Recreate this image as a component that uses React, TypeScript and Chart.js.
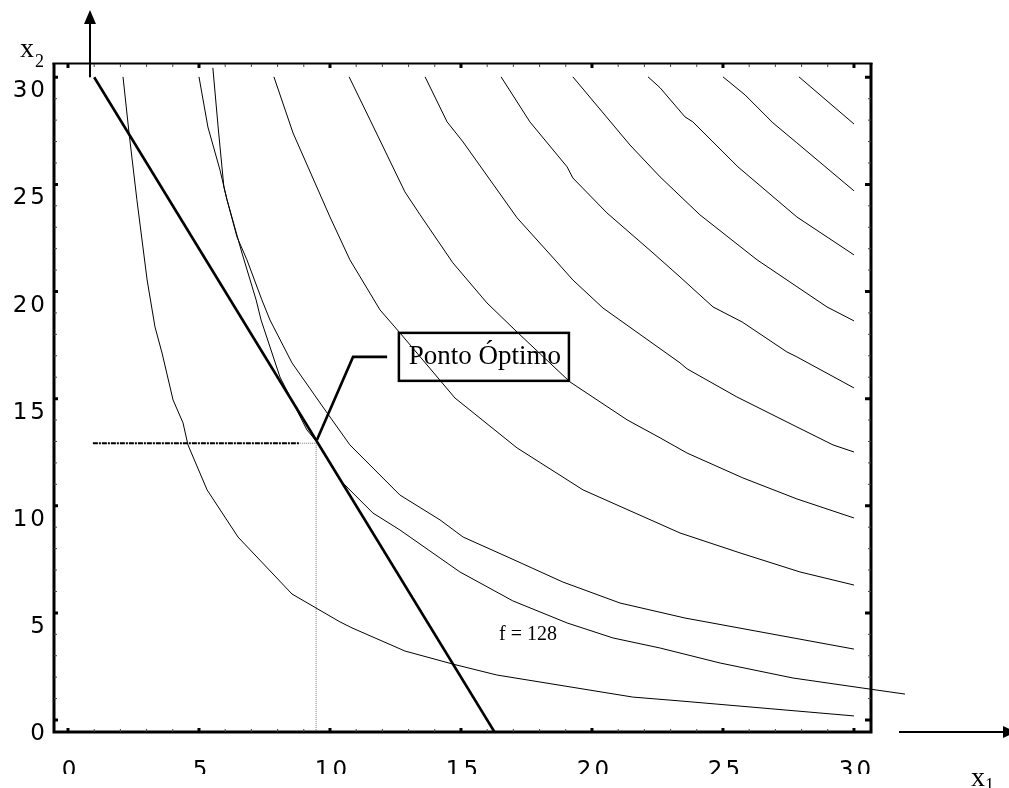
import React, { useEffect, useRef } from "react";
import { Chart, registerables } from "chart.js";

Chart.register(...registerables);

const W = 1009;
const H = 788;

// axis ranges / ticks
const xRange = [-0.534, 30.65];
const yRange = [-0.56, 30.62];
const xTickLabels = [0, 5, 10, 15, 20, 25, 30];
const yTickLabels = [0, 5, 10, 15, 20, 25, 30];

// contour curves (x1, x2)
const curveA: number[][] = [
  [2.1, 30.02], [2.33, 27.4], [2.63, 24.28], [3.02, 20.54], [3.32, 18.35], [3.59, 17.13],
  [4.01, 14.94], [4.39, 13.87], [4.58, 12.84], [5.31, 10.74], [6.49, 8.54], [8.55, 5.88],
  [10.38, 4.58], [10.84, 4.3], [12.86, 3.22], [14.69, 2.61], [16.37, 2.1], [21.56, 1.07],
  [23.36, 0.89], [30.0, 0.19],
];
const curveB: number[][] = [
  [5.0, 30.02], [5.34, 27.68], [5.8, 25.68], [6.07, 24.28], [6.45, 22.55], [6.83, 21.48],
  [7.4, 19.61], [7.71, 18.67], [8.55, 16.67], [9.73, 14.61], [10.76, 12.84], [12.67, 10.5],
  [14.2, 9.34], [15.08, 8.54], [16.87, 7.56], [18.89, 6.44], [21.07, 5.46], [23.55, 4.76],
  [30.0, 3.31],
];
const curveC: number[][] = [
  [5.53, 30.44], [5.73, 27.68], [5.95, 24.88], [6.07, 24.28], [6.64, 21.8], [7.18, 19.61],
  [7.37, 18.67], [8.09, 16.01], [9.12, 13.54], [9.5, 12.98], [10.38, 11.2], [11.64, 9.66],
  [12.67, 8.87], [14.2, 7.56], [14.96, 6.91], [16.98, 5.56], [19.05, 4.53], [20.8, 3.83],
  [22.6, 3.36], [24.89, 2.66], [27.67, 1.96], [30.34, 1.49], [31.95, 1.21],
];
const curveD: number[][] = [
  [7.86, 30.02], [8.59, 27.4], [10.0, 23.48], [10.76, 21.48], [11.91, 19.14], [12.67, 18.07],
  [14.77, 15.03], [17.14, 12.7], [19.66, 10.74], [23.36, 8.73], [25.65, 7.8], [27.94, 6.91],
  [30.0, 6.3],
];
const curveE: number[][] = [
  [10.73, 30.02], [11.53, 28.01], [12.86, 24.65], [13.44, 23.58], [14.69, 21.34], [15.99, 19.47],
  [17.14, 18.11], [19.16, 15.78], [21.34, 14.01], [22.6, 13.17], [23.63, 12.46], [25.76, 11.3],
  [27.82, 10.32], [30.0, 9.43],
];
const curveF: number[][] = [
  [13.63, 30.02], [14.47, 27.92], [15.08, 26.98], [17.14, 23.44], [18.66, 21.38], [19.27, 20.54],
  [20.42, 19.23], [23.36, 16.67], [23.63, 16.39], [25.53, 15.08], [27.82, 13.68], [29.2, 12.84],
  [30.0, 12.51],
];
const curveG: number[][] = [
  [16.53, 30.02], [17.63, 27.92], [19.05, 25.82], [19.27, 25.3], [20.57, 23.67], [22.33, 21.8],
  [23.36, 20.68], [24.62, 19.28], [25.73, 18.58], [27.44, 17.18], [27.82, 16.95], [30.0, 15.5],
];
const curveH: number[][] = [
  [19.27, 30.02], [21.45, 26.84], [22.6, 25.35], [24.12, 23.58], [26.3, 21.48], [28.97, 19.28],
  [30.0, 18.63],
];
const curveI: number[][] = [
  [22.14, 30.02], [22.6, 29.51], [23.55, 28.15], [23.85, 27.92], [25.57, 25.82], [27.82, 23.48],
  [30.0, 21.71],
];
const curveJ: number[][] = [
  [25.0, 30.02], [25.84, 29.18], [26.91, 27.87], [27.82, 26.94], [30.0, 24.7],
];
const curveK: number[][] = [
  [27.9, 30.02], [30.0, 27.82],
];

// constraint 2·x1 + x2 = 32
const constraintLine: number[][] = [[1.0, 30.0], [16.28, -0.56]];
// optimum point
const optimumX = 9.47;
const optimumY = 12.92;
const guideStartX = 0.95;
const guideDashEndX = 8.85;
// callout leader
const leaderLine: number[][] = [[12.18, 16.95], [10.88, 16.95], [9.5, 13.07]];

const calloutText = "Ponto Óptimo";
const levelText = "f = 128";

const serif = "'Liberation Serif', 'Times New Roman', serif";
const tickFont = "23px 'DejaVu Sans', sans-serif";

const toPts = (arr: number[][]) => arr.map(([x, y]) => ({ x, y }));

const decorPlugin = {
  id: "decor",
  afterDatasetsDraw(chart: any) {
    const ctx: CanvasRenderingContext2D = chart.ctx;
    const xs = chart.scales.x;
    const ys = chart.scales.y;
    const { left, right, top, bottom } = chart.chartArea;
    const px = (v: number) => xs.getPixelForValue(v);
    const py = (v: number) => ys.getPixelForValue(v);
    ctx.save();
    ctx.strokeStyle = "#000";
    ctx.fillStyle = "#000";

    // frame
    ctx.lineCap = "butt";
    ctx.lineWidth = 3;
    ctx.beginPath();
    ctx.moveTo(left, top - 1);
    ctx.lineTo(left, bottom + 1.5);
    ctx.moveTo(left - 1.5, bottom);
    ctx.lineTo(right + 1.5, bottom);
    ctx.moveTo(right, bottom + 1.5);
    ctx.lineTo(right, top - 1);
    ctx.stroke();
    ctx.lineWidth = 2;
    ctx.beginPath();
    ctx.moveTo(left - 1.5, top - 0.5);
    ctx.lineTo(right + 1.5, top - 0.5);
    ctx.stroke();

    // ticks
    for (let v = 0; v <= 30; v++) {
      const major = v % 5 === 0;
      const X = px(v);
      const Y = py(v);
      ctx.lineWidth = major ? 3 : 1;
      ctx.strokeStyle = major ? "#000" : "#444";
      const l = major ? 4 : 3;
      const lr = major ? 6 : 3;
      ctx.beginPath();
      ctx.moveTo(X, bottom); ctx.lineTo(X, bottom - l);
      ctx.moveTo(X, top); ctx.lineTo(X, top + l);
      ctx.moveTo(left, Y); ctx.lineTo(left + l, Y);
      ctx.moveTo(right, Y); ctx.lineTo(right - lr, Y);
      ctx.stroke();
    }
    ctx.strokeStyle = "#000";

    // tick labels
    ctx.font = tickFont;
    (ctx as any).letterSpacing = "3px";
    ctx.textBaseline = "alphabetic";
    ctx.textAlign = "right";
    yTickLabels.forEach((v) => {
      ctx.fillText(String(v), 48, py(v) + 20);
    });
    ctx.save();
    ctx.beginPath();
    ctx.rect(0, 0, W, 774);
    ctx.clip();
    ctx.textAlign = "center";
    xTickLabels.forEach((v) => {
      ctx.fillText(String(v), px(v) + 2.5, 777);
    });
    ctx.restore();
    (ctx as any).letterSpacing = "0px";

    // axis arrows
    const ax = px(0.84);
    const ay = py(30);
    ctx.lineWidth = 2;
    ctx.beginPath();
    ctx.moveTo(ax, ay);
    ctx.lineTo(ax, 22);
    ctx.stroke();
    ctx.beginPath();
    ctx.moveTo(ax, 10);
    ctx.lineTo(ax - 6, 24);
    ctx.lineTo(ax + 6, 24);
    ctx.closePath();
    ctx.fill();

    ctx.beginPath();
    ctx.moveTo(899, bottom);
    ctx.lineTo(1004, bottom);
    ctx.stroke();
    ctx.beginPath();
    ctx.moveTo(1016, bottom);
    ctx.lineTo(1003, bottom - 6);
    ctx.lineTo(1003, bottom + 6);
    ctx.closePath();
    ctx.fill();

    // axis names
    ctx.textAlign = "left";
    ctx.font = `28px ${serif}`;
    ctx.fillText("x", 20, 57);
    ctx.font = `18px ${serif}`;
    ctx.fillText("2", 35, 67);
    ctx.font = `28px ${serif}`;
    ctx.fillText("x", 971, 786);
    ctx.font = `18px ${serif}`;
    ctx.fillText("1", 985, 791);

    // callout box
    const bx0 = px(12.63), bx1 = px(19.12), by0 = py(18.07), by1 = py(15.83);
    ctx.lineWidth = 2.5;
    ctx.strokeRect(bx0, by0, bx1 - bx0, by1 - by0);
    ctx.font = `27px ${serif}`;
    ctx.textAlign = "center";
    ctx.fillText(calloutText, (bx0 + bx1) / 2 + 1, by0 + 31);

    // level label
    ctx.font = `20px ${serif}`;
    ctx.fillText(levelText, px(17.56), py(4.06) + 7);
    ctx.restore();
  },
};

export default function App() {
  const ref = useRef<HTMLCanvasElement | null>(null);
  useEffect(() => {
    if (!ref.current) return;
    const thin = (arr: number[][], extra: any = {}) => ({
      data: toPts(arr),
      borderColor: "#000",
      borderWidth: 1,
      pointRadius: 0,
      showLine: true,
      tension: 0,
      ...extra,
    });
    const chart = new Chart(ref.current, {
      type: "scatter",
      data: {
        datasets: [
          thin(curveA),
          thin(curveB),
          thin(curveC, { clip: false }),
          thin(curveD),
          thin(curveE),
          thin(curveF),
          thin(curveG),
          thin(curveH),
          thin(curveI),
          thin(curveJ),
          thin(curveK),
          thin(constraintLine, { borderWidth: 2.6 }),
          thin([[guideStartX, optimumY], [guideDashEndX, optimumY]], {
            borderWidth: 2,
            borderDash: [5, 1, 2, 1],
            clip: false,
          }),
          thin([[guideDashEndX, optimumY], [optimumX, optimumY], [optimumX, yRange[0]]], {
            borderWidth: 1,
            borderColor: "#777",
            borderDash: [1, 1],
          }),
          thin(leaderLine, { borderWidth: 2.6 }),
        ],
      },
      options: {
        responsive: false,
        animation: false,
        events: [],
        layout: { padding: { left: 54, top: 64, right: W - 871, bottom: H - 732 } },
        plugins: { legend: { display: false }, tooltip: { enabled: false } },
        scales: {
          x: { type: "linear", min: xRange[0], max: xRange[1], display: false },
          y: { type: "linear", min: yRange[0], max: yRange[1], display: false },
        },
      },
      plugins: [decorPlugin],
    });
    return () => chart.destroy();
  }, []);
  return (
    <div style={{ position: "fixed", left: 0, top: 0, width: W, height: H, background: "#fff" }}>
      <canvas ref={ref} width={W} height={H} style={{ width: W, height: H, display: "block" }} />
    </div>
  );
}
